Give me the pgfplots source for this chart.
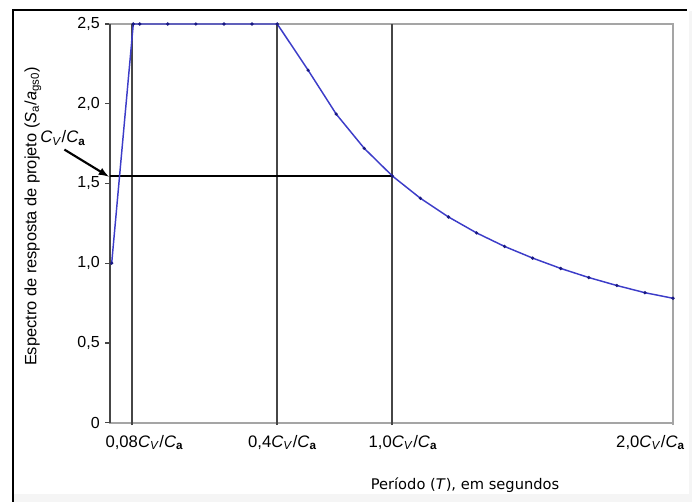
\documentclass[border=0pt]{standalone}
\usepackage{pgfplots}
\pgfplotsset{compat=1.18}
\usepackage{fontspec}
\setmainfont{Liberation Sans}
\newfontfamily\dejavu{DejaVu Sans}
\definecolor{curveblue}{RGB}{60,60,200}
\definecolor{markblue}{RGB}{25,25,130}
\definecolor{gridgray}{RGB}{70,70,70}
\definecolor{boxgray}{RGB}{165,165,165}
\newcommand{\CvCa}{\textit{C}\textsubscript{\textit{V}}/\textit{C}\textsubscript{\textbf{a}}}
\begin{document}
\begin{tikzpicture}
\path[use as bounding box] (0,0) rectangle (519pt,376.5pt);
\fill[black!4] (10.5pt,0) rectangle (519pt,6pt);
\fill[black!4] (517pt,0) rectangle (519pt,368pt);
\draw[line width=1.7pt] (9.75pt,0) -- (9.75pt,369pt) -- (515pt,369pt);
\begin{axis}[
  at={(82.5pt,59.5pt)}, anchor=south west,
  scale only axis, width=422.25pt, height=299pt,
  xmin=-0.006, xmax=2.0, ymin=0, ymax=2.5,
  clip=false,
  axis line style={draw=boxgray, line width=1.4pt},
  tick style={draw=gridgray, line width=1pt},
  tick align=outside,
  ytick={0,0.5,1,1.5,2,2.5},
  yticklabels={0,{0,5},{1,0},{1,5},{2,0},{2,5}},
  ytick pos=left,
  major tick length=3.75pt,
  yticklabel style={font=\fontsize{12}{13}\selectfont, anchor=east, inner sep=0pt, xshift=-3.75pt},
  xtick=\empty,
  xtick pos=bottom,
  extra x ticks={0.117,0.6086,1.038,1.920},
  extra x tick labels={{0,08\CvCa},{0,4\CvCa},{1,0\CvCa},{2,0\CvCa}},
  extra x tick style={major tick length=0pt, xticklabel style={font=\fontsize{12.5}{13}\selectfont, anchor=center, yshift=-15pt, inner sep=0pt}},
  xlabel={Período (\textit{T}), em segundos},
  xlabel style={font=\dejavu\fontsize{11}{12}\selectfont, at={(axis description cs:0.6306,-0.1563)}, anchor=center},
  ylabel={Espectro de resposta de projeto (\textit{S}\textsubscript{a}/\textit{a}\textsubscript{gs0})},
  ylabel style={font=\fontsize{12.3}{13}\selectfont, at={(axis description cs:-0.137,0.517)}, anchor=center},
]
% left axis line (darker)
\addplot[draw=gridgray, line width=1.4pt] coordinates {(-0.006,0) (-0.006,2.5)};
% reference lines (extended slightly below the axis as ticks)
\addplot[draw=gridgray, line width=1.4pt] coordinates {(0.071,-0.015) (0.071,2.5)};
\addplot[draw=gridgray, line width=1.4pt] coordinates {(0.59,-0.015) (0.59,2.5)};
\addplot[draw=gridgray, line width=1.4pt] coordinates {(1.0,-0.015) (1.0,2.5)};
\addplot[draw=boxgray, line width=1.4pt] coordinates {(2.0,-0.015) (2.0,0)};
\addplot[draw=black, line width=1.3pt] coordinates {(-0.006,1.547) (1.0,1.547)};
% spectrum
\addplot[color=curveblue, line width=1.1pt, mark=*, mark size=0.6pt, mark options={fill=markblue, draw=markblue}] coordinates {
(0,1.0) (0.077,2.5) (0.1,2.5) (0.2,2.5) (0.3,2.5) (0.4,2.5) (0.5,2.5) (0.59,2.5)
(0.7,2.21) (0.8,1.935) (0.9,1.72) (1.0,1.547) (1.1,1.407) (1.2,1.29) (1.3,1.19)
(1.4,1.105) (1.5,1.032) (1.6,0.967) (1.7,0.91) (1.8,0.86) (1.9,0.815) (2.0,0.78)
};
\node[font=\fontsize{12.5}{13}\selectfont] at (axis description cs:-0.0835,0.714) {\CvCa};
\draw[-latex, line width=1.6pt] (axis description cs:-0.081,0.685) -- (axis description cs:-0.002,0.617);
\end{axis}
\end{tikzpicture}
\end{document}
